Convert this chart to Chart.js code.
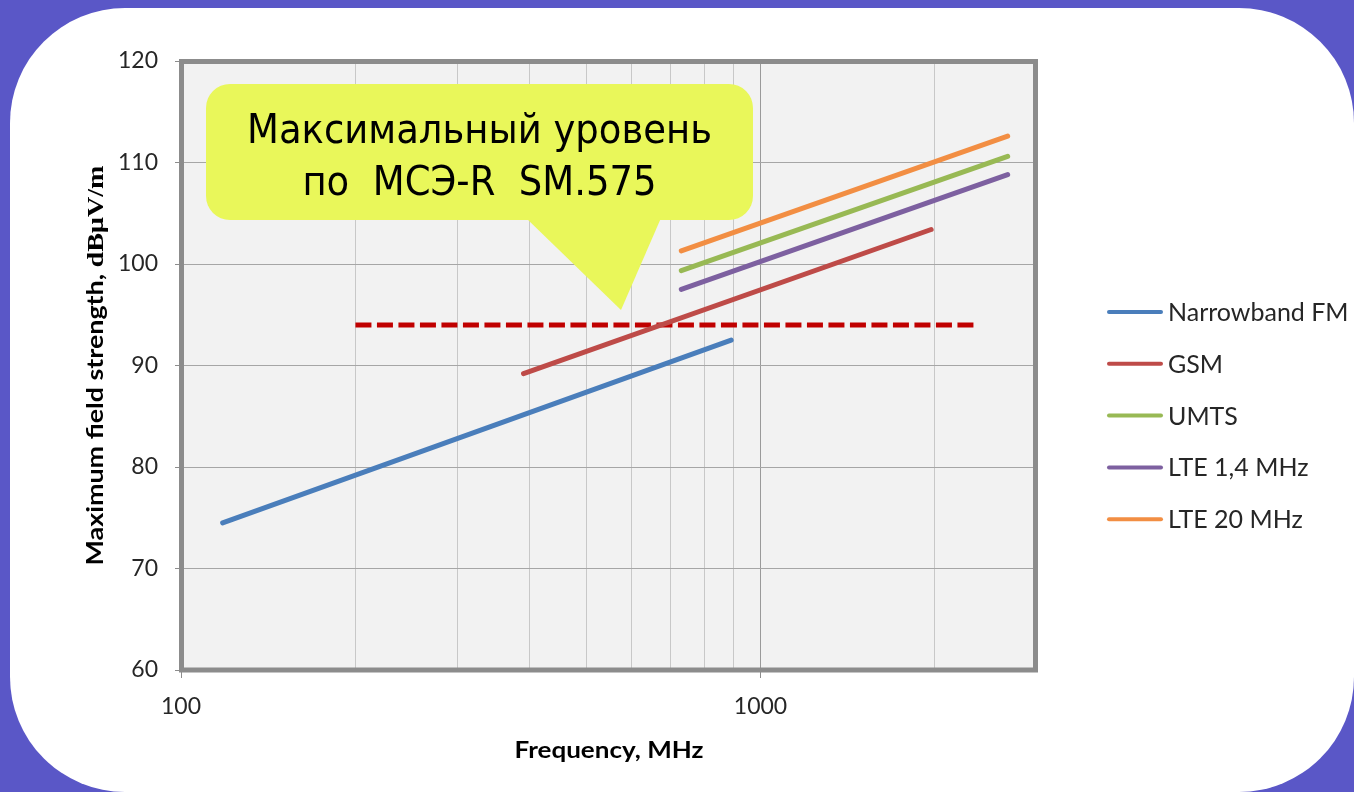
<!DOCTYPE html>
<html>
<head>
<meta charset="utf-8">
<script src="https://cdn.jsdelivr.net/npm/chart.js@4.4.1/dist/chart.umd.min.js"></script>
<style>
  html, body { margin: 0; padding: 0; width: 1354px; height: 792px; overflow: hidden; background: #5a57c7; }
  #card { position: absolute; left: 10px; top: 8px; width: 1344px; height: 784px; background: #ffffff; border-radius: 115px; }
  #wrap { position: absolute; left: 0; top: 0; width: 1354px; height: 792px; }
</style>
</head>
<body>
<div id="card"></div>
<div id="wrap"><canvas id="c" width="1354" height="792"></canvas></div>
<script>
// Series: frequency (MHz) and maximum field strength (dBµV/m) at each end of the line
const seriesNames = ['Narrowband FM', 'GSM', 'UMTS', 'LTE 1,4 MHz', 'LTE 20 MHz'];
const fmFreq    = [118, 890];
const fmLevel   = [74.5, 92.5];
const gsmFreq   = [390, 1970];
const gsmLevel  = [89.2, 103.4];
const umtsFreq  = [730, 2670];
const umtsLevel = [99.35, 110.6];
const lte14Freq = [730, 2670];
const lte14Level = [97.5, 108.8];
const lte20Freq = [730, 2670];
const lte20Level = [101.3, 112.6];

// Limit level per ITU-R SM.575
const limitFreq  = [200, 2350];
const limitLevel = [94, 94];

// Axes
const xTickValues = [100, 200, 300, 400, 500, 600, 700, 800, 900, 1000, 2000, 3000];
const xTickLabels = ['100', '', '', '', '', '', '', '', '', '1000', '', ''];
const yMin = 60, yMax = 120, yStep = 10;

const xTitle = 'Frequency, MHz';
const yTitleMain = 'Maximum field strength, ';
const yTitleUnit = 'dBµV/m';
const calloutLines = ['Максимальный уровень', 'по  МСЭ-R  SM.575'];

const seriesColors = ['#4a7ebb', '#be4b48', '#98b954', '#7d60a0', '#f28e43'];
const limitColor = '#c00000';

const toPoints = (xs, ys) => xs.map((x, i) => ({ x: x, y: ys[i] }));
const seriesData = [
  toPoints(fmFreq, fmLevel),
  toPoints(gsmFreq, gsmLevel),
  toPoints(umtsFreq, umtsLevel),
  toPoints(lte14Freq, lte14Level),
  toPoints(lte20Freq, lte20Level)
];

const datasets = seriesNames.map((name, i) => ({
  label: name,
  data: seriesData[i],
  borderColor: seriesColors[i],
  borderWidth: 5,
  borderCapStyle: 'round',
  pointRadius: 0,
  tension: 0,
  fill: false,
  isSeries: true
}));
datasets.push({
  label: 'limit',
  data: toPoints(limitFreq, limitLevel),
  borderColor: limitColor,
  borderWidth: 5,
  borderDash: [16, 5.5],
  borderCapStyle: 'butt',
  pointRadius: 0,
  tension: 0,
  fill: false,
  isSeries: false
});

const TICK_FONT = { family: 'Lato', size: 23 };
const TEXT_COLOR = '#262626';

// draws text stretched/condensed along its baseline to a given width
function fitText(ctx, text, x, y, width) {
  const w = ctx.measureText(text).width;
  ctx.save();
  ctx.translate(x, y);
  ctx.scale(width / w, 1);
  ctx.textAlign = 'center';
  ctx.fillText(text, 0, 0);
  ctx.restore();
}

const decor = {
  id: 'decor',
  beforeDraw(chart) {
    const { ctx, chartArea: a } = chart;
    ctx.save();
    ctx.fillStyle = '#f2f2f2';
    ctx.fillRect(a.left, a.top, a.right - a.left, a.bottom - a.top);
    ctx.restore();
  },
  afterDraw(chart) {
    const { ctx, chartArea: a } = chart;

    // plot frame
    ctx.save();
    ctx.strokeStyle = '#8c8c8c';
    ctx.lineWidth = 5;
    ctx.strokeRect(a.left + 0.5, a.top + 0.5, a.right - a.left - 2, a.bottom - a.top - 0.5);
    ctx.restore();

    // vertical axis title (two typefaces), spread over 400 px
    ctx.save();
    ctx.translate(103, (a.top + a.bottom) / 2);
    ctx.rotate(-Math.PI / 2);
    ctx.fillStyle = '#000';
    ctx.textBaseline = 'alphabetic';
    const f1 = 'bold 22px Lato', f2 = 'bold 23px "Liberation Serif"';
    ctx.font = f1; const w1 = ctx.measureText(yTitleMain).width;
    ctx.font = f2; const w2 = ctx.measureText(yTitleUnit).width;
    const k = 400 / (w1 + w2);
    ctx.scale(k, 1);
    const x0 = -(w1 + w2) / 2;
    ctx.font = f1; ctx.fillText(yTitleMain, x0, 0);
    ctx.font = f2; ctx.fillText(yTitleUnit, x0 + w1, 0);
    ctx.restore();

    // horizontal axis title
    ctx.save();
    ctx.fillStyle = '#000';
    ctx.font = 'bold 23px Lato';
    ctx.textBaseline = 'alphabetic';
    fitText(ctx, xTitle, (a.left + a.right) / 2, 758, 189);
    ctx.restore();

    // legend
    ctx.save();
    const lx0 = 1107, lx1 = 1163, ly0 = 312, lgap = 51.8;
    chart.data.datasets.filter(d => d.isSeries).forEach((d, i) => {
      const y = ly0 + i * lgap;
      ctx.strokeStyle = d.borderColor;
      ctx.lineWidth = 4;
      ctx.lineCap = 'round';
      ctx.beginPath(); ctx.moveTo(lx0 + 2, y); ctx.lineTo(lx1 - 2, y); ctx.stroke();
      ctx.fillStyle = TEXT_COLOR;
      ctx.font = '25px Lato';
      ctx.textBaseline = 'middle';
      ctx.textAlign = 'left';
      ctx.fillText(d.label, 1168, y + 1);
    });
    ctx.restore();

    // callout
    ctx.save();
    ctx.fillStyle = '#e9f75a';
    ctx.beginPath();
    ctx.roundRect(206, 84, 547, 136, 24);
    ctx.fill();
    ctx.beginPath();
    ctx.moveTo(526, 218);
    ctx.lineTo(621, 310);
    ctx.lineTo(661, 218);
    ctx.closePath();
    ctx.fill();
    ctx.fillStyle = '#000';
    ctx.font = '40px "DejaVu Sans Condensed", "DejaVu Sans"';
    ctx.textAlign = 'center';
    ctx.textBaseline = 'alphabetic';
    const mw = ctx.measureText(calloutLines[0]).width;
    const sx = 465 / mw;
    ctx.translate(479.5, 0);
    ctx.scale(sx, 1);
    ctx.fillText(calloutLines[0], 0, 143);
    ctx.fillText(calloutLines[1], 0, 195);
    ctx.restore();
  }
};

new Chart(document.getElementById('c'), {
  type: 'line',
  data: { datasets: datasets },
  plugins: [decor],
  options: {
    responsive: false,
    animation: false,
    layout: { padding: { top: 61, right: 317, left: 0, bottom: 0 } },
    plugins: { legend: { display: false }, tooltip: { enabled: false } },
    scales: {
      x: {
        type: 'logarithmic',
        min: 100,
        max: 3000,
        afterBuildTicks: s => { s.ticks = xTickValues.map(v => ({ value: v })); },
        afterFit: s => { s.height = 122; },
        border: { display: false },
        grid: {
          color: c => (c.tick && c.tick.value === 1000) ? '#9a9a9a' : '#c8c8c8',
          tickColor: c => (c.tick && (c.tick.value === 100 || c.tick.value === 1000)) ? '#8c8c8c' : 'rgba(0,0,0,0)',
          tickLength: 8,
          lineWidth: 1
        },
        ticks: {
          autoSkip: false,
          maxRotation: 0,
          padding: 15,
          font: TICK_FONT,
          color: TEXT_COLOR,
          callback: v => { const i = xTickValues.indexOf(v); return i >= 0 ? xTickLabels[i] : ''; }
        }
      },
      y: {
        min: yMin,
        max: yMax,
        afterFit: s => { s.width = 181; },
        border: { display: false },
        grid: { color: '#a6a6a6', tickColor: '#8c8c8c', tickLength: 6, lineWidth: 1 },
        ticks: { stepSize: yStep, padding: 17, font: TICK_FONT, color: TEXT_COLOR }
      }
    }
  }
});
</script>
</body>
</html>
